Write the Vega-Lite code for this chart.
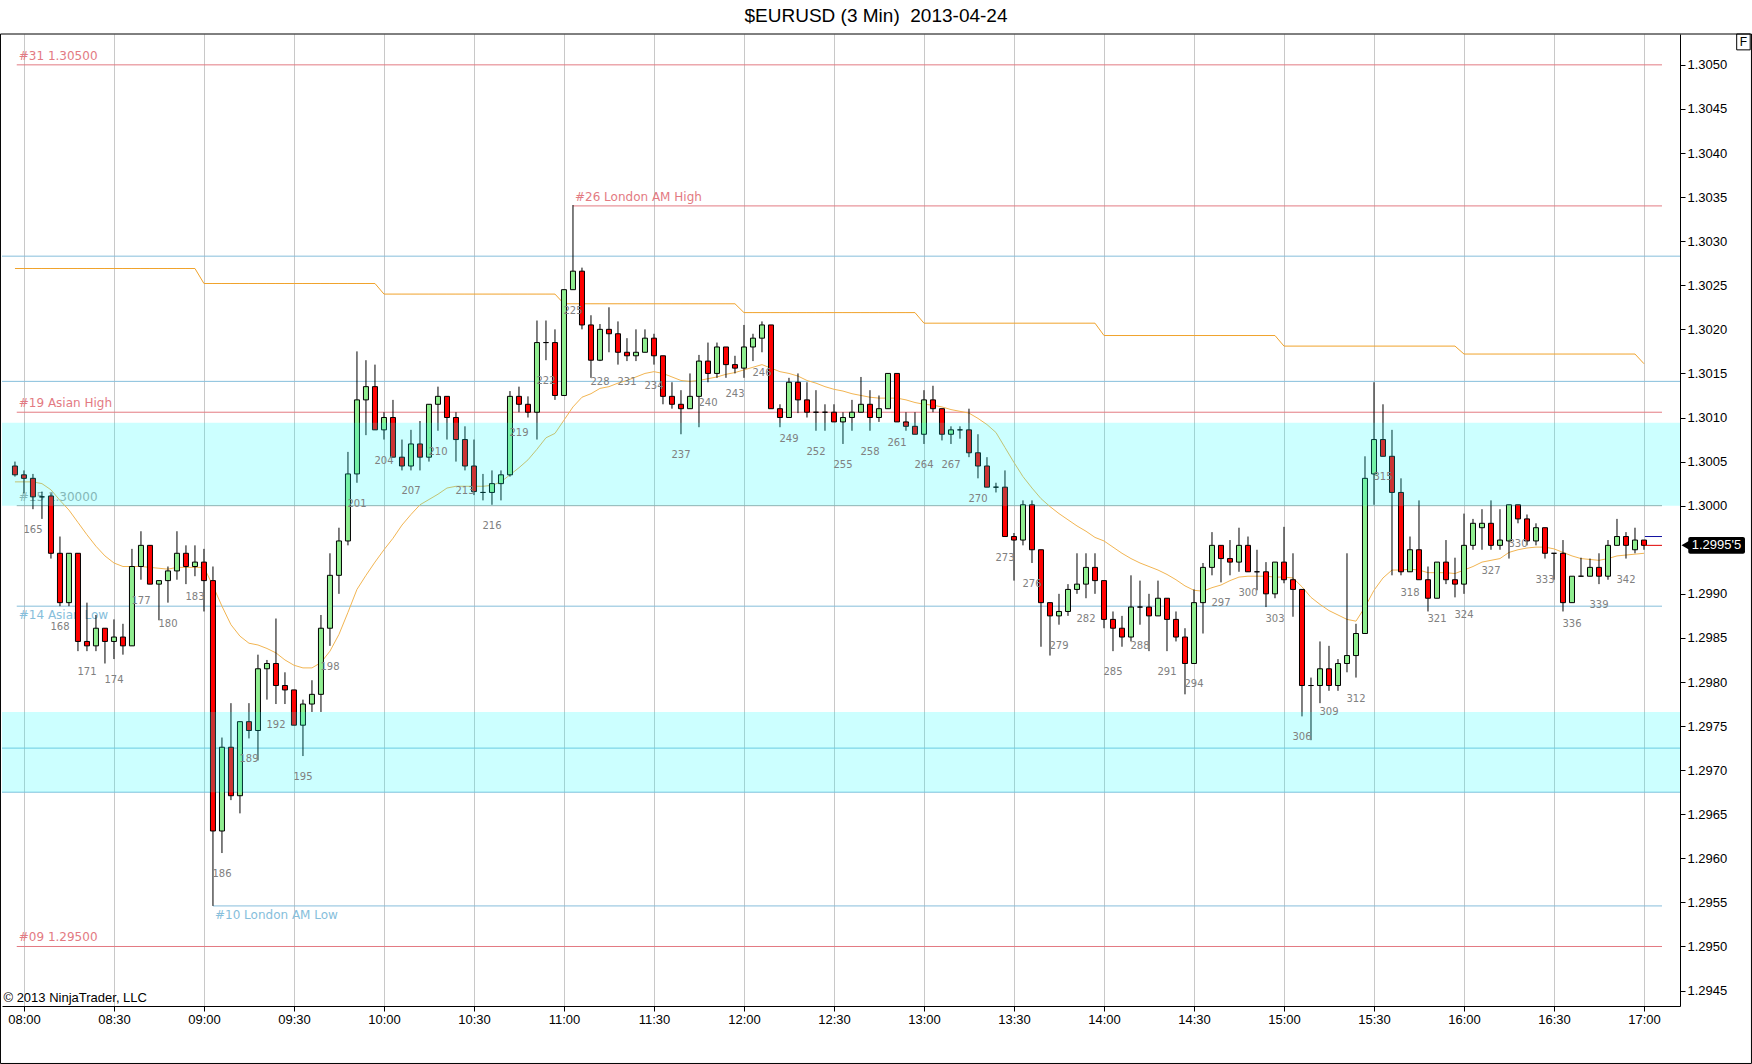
{
  "$schema": "https://vega.github.io/schema/vega-lite/v6.json",
  "width": 1678,
  "height": 972,
  "autosize": {"type": "none"},
  "padding": {"left": 2, "top": 34, "right": 72, "bottom": 58},
  "background": "white",
  "config": {
    "view": {"stroke": null},
    "axis": {
      "domainColor": "black",
      "tickColor": "black",
      "tickSize": 5,
      "labelFont": "Liberation Sans",
      "labelFontSize": 13,
      "labelColor": "black",
      "labelFlush": false,
      "labelOverlap": false
    }
  },
  "datasets": {
    "bars": [
      {"n":163,"o":1.30045,"h":1.3005,"l":1.30033,"c":1.30035,"ma":1.30027,"pv":1.30269},
      {"n":164,"o":1.30035,"h":1.3004,"l":1.30014,"c":1.30031,"ma":1.30027,"pv":1.30269},
      {"n":165,"o":1.30031,"h":1.30036,"l":1.29996,"c":1.3001,"ma":1.30027,"pv":1.30269},
      {"n":166,"o":1.3001,"h":1.30016,"l":1.29985,"c":1.3001,"ma":1.30025,"pv":1.30269},
      {"n":167,"o":1.30011,"h":1.30014,"l":1.2994,"c":1.29946,"ma":1.30018,"pv":1.30269},
      {"n":168,"o":1.29946,"h":1.29965,"l":1.29886,"c":1.2989,"ma":1.30006,"pv":1.30269},
      {"n":169,"o":1.2989,"h":1.29946,"l":1.29886,"c":1.29946,"ma":1.29995,"pv":1.30269},
      {"n":170,"o":1.29946,"h":1.29946,"l":1.29835,"c":1.29846,"ma":1.29981,"pv":1.30269},
      {"n":171,"o":1.29846,"h":1.2989,"l":1.29835,"c":1.29841,"ma":1.29967,"pv":1.30269},
      {"n":172,"o":1.29841,"h":1.29876,"l":1.29835,"c":1.29861,"ma":1.29954,"pv":1.30269},
      {"n":173,"o":1.29861,"h":1.29861,"l":1.29821,"c":1.29846,"ma":1.29943,"pv":1.30269},
      {"n":174,"o":1.29846,"h":1.29871,"l":1.29826,"c":1.29851,"ma":1.29935,"pv":1.30269},
      {"n":175,"o":1.29851,"h":1.29866,"l":1.29831,"c":1.29841,"ma":1.29931,"pv":1.30269},
      {"n":176,"o":1.29841,"h":1.29951,"l":1.29841,"c":1.29931,"ma":1.29931,"pv":1.30269},
      {"n":177,"o":1.29931,"h":1.29971,"l":1.29916,"c":1.29955,"ma":1.29931,"pv":1.30269},
      {"n":178,"o":1.29955,"h":1.29955,"l":1.29911,"c":1.29911,"ma":1.2993,"pv":1.30269},
      {"n":179,"o":1.29911,"h":1.29915,"l":1.2987,"c":1.29915,"ma":1.29929,"pv":1.30269},
      {"n":180,"o":1.29915,"h":1.29931,"l":1.2989,"c":1.29926,"ma":1.29928,"pv":1.30269},
      {"n":181,"o":1.29926,"h":1.29971,"l":1.29916,"c":1.29946,"ma":1.2993,"pv":1.30269},
      {"n":182,"o":1.29946,"h":1.29955,"l":1.29911,"c":1.29931,"ma":1.2993,"pv":1.30269},
      {"n":183,"o":1.29931,"h":1.29955,"l":1.2992,"c":1.29936,"ma":1.2993,"pv":1.30269},
      {"n":184,"o":1.29936,"h":1.29951,"l":1.2988,"c":1.29915,"ma":1.2993,"pv":1.30252},
      {"n":185,"o":1.29915,"h":1.29931,"l":1.29546,"c":1.29631,"ma":1.29909,"pv":1.30252},
      {"n":186,"o":1.29631,"h":1.29737,"l":1.29606,"c":1.29726,"ma":1.29886,"pv":1.30252},
      {"n":187,"o":1.29726,"h":1.29776,"l":1.29666,"c":1.29671,"ma":1.29865,"pv":1.30252},
      {"n":188,"o":1.29671,"h":1.29755,"l":1.29651,"c":1.29755,"ma":1.29852,"pv":1.30252},
      {"n":189,"o":1.29755,"h":1.29776,"l":1.29736,"c":1.29745,"ma":1.29844,"pv":1.30252},
      {"n":190,"o":1.29745,"h":1.29831,"l":1.29711,"c":1.29815,"ma":1.29842,"pv":1.30252},
      {"n":191,"o":1.29815,"h":1.29825,"l":1.2978,"c":1.29821,"ma":1.29838,"pv":1.30252},
      {"n":192,"o":1.29821,"h":1.29872,"l":1.29775,"c":1.29796,"ma":1.29833,"pv":1.30252},
      {"n":193,"o":1.29796,"h":1.29811,"l":1.29775,"c":1.29791,"ma":1.29825,"pv":1.30252},
      {"n":194,"o":1.29791,"h":1.29791,"l":1.29751,"c":1.29751,"ma":1.29819,"pv":1.30252},
      {"n":195,"o":1.29751,"h":1.2978,"l":1.29716,"c":1.29775,"ma":1.29816,"pv":1.30252},
      {"n":196,"o":1.29775,"h":1.29802,"l":1.29766,"c":1.29786,"ma":1.29816,"pv":1.30252},
      {"n":197,"o":1.29786,"h":1.29876,"l":1.29766,"c":1.29861,"ma":1.29822,"pv":1.30252},
      {"n":198,"o":1.29861,"h":1.29946,"l":1.29841,"c":1.29921,"ma":1.29835,"pv":1.30252},
      {"n":199,"o":1.29921,"h":1.29975,"l":1.299,"c":1.2996,"ma":1.29854,"pv":1.30252},
      {"n":200,"o":1.2996,"h":1.30061,"l":1.29955,"c":1.30036,"ma":1.29879,"pv":1.30252},
      {"n":201,"o":1.30036,"h":1.30175,"l":1.30026,"c":1.3012,"ma":1.29905,"pv":1.30252},
      {"n":202,"o":1.3012,"h":1.30165,"l":1.3008,"c":1.30135,"ma":1.29921,"pv":1.30252},
      {"n":203,"o":1.30135,"h":1.3016,"l":1.30086,"c":1.30086,"ma":1.29936,"pv":1.30252},
      {"n":204,"o":1.30086,"h":1.30106,"l":1.30075,"c":1.301,"ma":1.2995,"pv":1.3024},
      {"n":205,"o":1.301,"h":1.3012,"l":1.30055,"c":1.30055,"ma":1.29963,"pv":1.3024},
      {"n":206,"o":1.30055,"h":1.30075,"l":1.3004,"c":1.30045,"ma":1.29978,"pv":1.3024},
      {"n":207,"o":1.30045,"h":1.30086,"l":1.3004,"c":1.3007,"ma":1.2999,"pv":1.3024},
      {"n":208,"o":1.3007,"h":1.30096,"l":1.3004,"c":1.30055,"ma":1.30001,"pv":1.3024},
      {"n":209,"o":1.30055,"h":1.30115,"l":1.3005,"c":1.30115,"ma":1.30007,"pv":1.3024},
      {"n":210,"o":1.30115,"h":1.30135,"l":1.30085,"c":1.30124,"ma":1.30013,"pv":1.3024},
      {"n":211,"o":1.30124,"h":1.30124,"l":1.30075,"c":1.301,"ma":1.3002,"pv":1.3024},
      {"n":212,"o":1.301,"h":1.30106,"l":1.3005,"c":1.30075,"ma":1.30022,"pv":1.3024},
      {"n":213,"o":1.30075,"h":1.3009,"l":1.3004,"c":1.30045,"ma":1.30022,"pv":1.3024},
      {"n":214,"o":1.30045,"h":1.30075,"l":1.30012,"c":1.30016,"ma":1.30022,"pv":1.3024},
      {"n":215,"o":1.30015,"h":1.30036,"l":1.30006,"c":1.30015,"ma":1.30022,"pv":1.3024},
      {"n":216,"o":1.30015,"h":1.3004,"l":1.30001,"c":1.30025,"ma":1.30023,"pv":1.3024},
      {"n":217,"o":1.30025,"h":1.3004,"l":1.30006,"c":1.30035,"ma":1.30027,"pv":1.3024},
      {"n":218,"o":1.30035,"h":1.3013,"l":1.30033,"c":1.30124,"ma":1.30035,"pv":1.3024},
      {"n":219,"o":1.30124,"h":1.30135,"l":1.30106,"c":1.30115,"ma":1.30043,"pv":1.3024},
      {"n":220,"o":1.30115,"h":1.30124,"l":1.301,"c":1.30106,"ma":1.30052,"pv":1.3024},
      {"n":221,"o":1.30106,"h":1.3021,"l":1.30075,"c":1.30185,"ma":1.30064,"pv":1.3024},
      {"n":222,"o":1.30185,"h":1.3021,"l":1.30165,"c":1.30185,"ma":1.30077,"pv":1.3024},
      {"n":223,"o":1.30185,"h":1.302,"l":1.3012,"c":1.30125,"ma":1.30082,"pv":1.3024},
      {"n":224,"o":1.30125,"h":1.30245,"l":1.30125,"c":1.30245,"ma":1.30097,"pv":1.30229},
      {"n":225,"o":1.30245,"h":1.30341,"l":1.30245,"c":1.30266,"ma":1.30112,"pv":1.30229},
      {"n":226,"o":1.30266,"h":1.3027,"l":1.302,"c":1.30205,"ma":1.30123,"pv":1.30229},
      {"n":227,"o":1.30205,"h":1.30216,"l":1.30145,"c":1.30165,"ma":1.30127,"pv":1.30229},
      {"n":228,"o":1.30165,"h":1.30206,"l":1.30164,"c":1.302,"ma":1.30133,"pv":1.30229},
      {"n":229,"o":1.302,"h":1.30225,"l":1.30174,"c":1.30195,"ma":1.30135,"pv":1.30229},
      {"n":230,"o":1.30195,"h":1.30209,"l":1.3016,"c":1.30174,"ma":1.30139,"pv":1.30229},
      {"n":231,"o":1.30174,"h":1.3019,"l":1.30164,"c":1.3017,"ma":1.30142,"pv":1.30229},
      {"n":232,"o":1.3017,"h":1.302,"l":1.30164,"c":1.30174,"ma":1.30146,"pv":1.30229},
      {"n":233,"o":1.30174,"h":1.302,"l":1.30174,"c":1.3019,"ma":1.3015,"pv":1.30229},
      {"n":234,"o":1.3019,"h":1.30195,"l":1.3016,"c":1.3017,"ma":1.30152,"pv":1.30229},
      {"n":235,"o":1.3017,"h":1.3017,"l":1.30115,"c":1.30124,"ma":1.3015,"pv":1.30229},
      {"n":236,"o":1.30124,"h":1.3014,"l":1.3011,"c":1.30115,"ma":1.30146,"pv":1.30229},
      {"n":237,"o":1.30115,"h":1.30131,"l":1.30081,"c":1.3011,"ma":1.30142,"pv":1.30229},
      {"n":238,"o":1.3011,"h":1.3015,"l":1.3011,"c":1.30124,"ma":1.30141,"pv":1.30229},
      {"n":239,"o":1.30124,"h":1.30171,"l":1.30089,"c":1.30164,"ma":1.30142,"pv":1.30229},
      {"n":240,"o":1.30164,"h":1.30185,"l":1.3014,"c":1.3015,"ma":1.30144,"pv":1.30229},
      {"n":241,"o":1.3015,"h":1.30185,"l":1.30145,"c":1.3018,"ma":1.30146,"pv":1.30229},
      {"n":242,"o":1.3018,"h":1.3018,"l":1.30145,"c":1.3016,"ma":1.30149,"pv":1.30229},
      {"n":243,"o":1.3016,"h":1.3017,"l":1.3015,"c":1.30156,"ma":1.30151,"pv":1.30229},
      {"n":244,"o":1.30156,"h":1.30205,"l":1.30145,"c":1.3018,"ma":1.30154,"pv":1.30219},
      {"n":245,"o":1.3018,"h":1.30195,"l":1.30164,"c":1.3019,"ma":1.30157,"pv":1.30219},
      {"n":246,"o":1.3019,"h":1.30209,"l":1.30174,"c":1.30205,"ma":1.3016,"pv":1.30219},
      {"n":247,"o":1.30205,"h":1.30205,"l":1.3011,"c":1.3011,"ma":1.30156,"pv":1.30219},
      {"n":248,"o":1.3011,"h":1.30115,"l":1.30089,"c":1.301,"ma":1.30152,"pv":1.30219},
      {"n":249,"o":1.301,"h":1.30145,"l":1.301,"c":1.3014,"ma":1.3015,"pv":1.30219},
      {"n":250,"o":1.3014,"h":1.3015,"l":1.30105,"c":1.3012,"ma":1.30147,"pv":1.30219},
      {"n":251,"o":1.3012,"h":1.3014,"l":1.301,"c":1.30106,"ma":1.30142,"pv":1.30219},
      {"n":252,"o":1.30106,"h":1.30131,"l":1.30085,"c":1.30106,"ma":1.30139,"pv":1.30219},
      {"n":253,"o":1.30106,"h":1.30115,"l":1.30085,"c":1.30106,"ma":1.30135,"pv":1.30219},
      {"n":254,"o":1.30106,"h":1.30115,"l":1.30095,"c":1.30095,"ma":1.30132,"pv":1.30219},
      {"n":255,"o":1.30095,"h":1.30106,"l":1.3007,"c":1.301,"ma":1.3013,"pv":1.30219},
      {"n":256,"o":1.301,"h":1.3012,"l":1.30085,"c":1.30106,"ma":1.30127,"pv":1.30219},
      {"n":257,"o":1.30106,"h":1.30146,"l":1.30106,"c":1.30115,"ma":1.30125,"pv":1.30219},
      {"n":258,"o":1.30115,"h":1.30131,"l":1.30085,"c":1.301,"ma":1.30123,"pv":1.30219},
      {"n":259,"o":1.301,"h":1.30125,"l":1.30095,"c":1.3011,"ma":1.30122,"pv":1.30219},
      {"n":260,"o":1.3011,"h":1.3015,"l":1.3011,"c":1.3015,"ma":1.30122,"pv":1.30219},
      {"n":261,"o":1.3015,"h":1.3015,"l":1.30095,"c":1.30095,"ma":1.30122,"pv":1.30219},
      {"n":262,"o":1.30095,"h":1.30106,"l":1.30085,"c":1.3009,"ma":1.3012,"pv":1.30219},
      {"n":263,"o":1.3009,"h":1.30106,"l":1.30081,"c":1.30081,"ma":1.30117,"pv":1.30219},
      {"n":264,"o":1.30081,"h":1.30131,"l":1.3007,"c":1.3012,"ma":1.30115,"pv":1.30207},
      {"n":265,"o":1.3012,"h":1.30136,"l":1.30106,"c":1.3011,"ma":1.30114,"pv":1.30207},
      {"n":266,"o":1.3011,"h":1.3011,"l":1.30074,"c":1.30081,"ma":1.30112,"pv":1.30207},
      {"n":267,"o":1.30081,"h":1.3009,"l":1.3007,"c":1.30086,"ma":1.30109,"pv":1.30207},
      {"n":268,"o":1.30086,"h":1.3009,"l":1.30076,"c":1.30086,"ma":1.30107,"pv":1.30207},
      {"n":269,"o":1.30086,"h":1.3011,"l":1.30055,"c":1.3006,"ma":1.30105,"pv":1.30207},
      {"n":270,"o":1.3006,"h":1.30081,"l":1.30031,"c":1.30045,"ma":1.30099,"pv":1.30207},
      {"n":271,"o":1.30045,"h":1.30055,"l":1.30021,"c":1.30021,"ma":1.30092,"pv":1.30207},
      {"n":272,"o":1.30021,"h":1.30026,"l":1.30015,"c":1.30021,"ma":1.30083,"pv":1.30207},
      {"n":273,"o":1.30021,"h":1.3004,"l":1.29965,"c":1.29965,"ma":1.30066,"pv":1.30207},
      {"n":274,"o":1.29965,"h":1.29969,"l":1.29915,"c":1.29961,"ma":1.30049,"pv":1.30207},
      {"n":275,"o":1.29961,"h":1.30006,"l":1.29955,"c":1.30001,"ma":1.30033,"pv":1.30207},
      {"n":276,"o":1.30001,"h":1.30006,"l":1.29935,"c":1.2995,"ma":1.3002,"pv":1.30207},
      {"n":277,"o":1.2995,"h":1.2995,"l":1.2984,"c":1.2989,"ma":1.30008,"pv":1.30207},
      {"n":278,"o":1.2989,"h":1.2989,"l":1.2983,"c":1.29875,"ma":1.29999,"pv":1.30207},
      {"n":279,"o":1.29875,"h":1.299,"l":1.29865,"c":1.2988,"ma":1.29991,"pv":1.30207},
      {"n":280,"o":1.2988,"h":1.29911,"l":1.29875,"c":1.29905,"ma":1.29984,"pv":1.30207},
      {"n":281,"o":1.29905,"h":1.29946,"l":1.299,"c":1.29911,"ma":1.29977,"pv":1.30207},
      {"n":282,"o":1.29911,"h":1.29946,"l":1.29895,"c":1.2993,"ma":1.29971,"pv":1.30207},
      {"n":283,"o":1.2993,"h":1.29946,"l":1.299,"c":1.29915,"ma":1.29964,"pv":1.30207},
      {"n":284,"o":1.29915,"h":1.29915,"l":1.29861,"c":1.29871,"ma":1.2996,"pv":1.30193},
      {"n":285,"o":1.29871,"h":1.2988,"l":1.29835,"c":1.29861,"ma":1.29953,"pv":1.30193},
      {"n":286,"o":1.29861,"h":1.29875,"l":1.2984,"c":1.29851,"ma":1.29946,"pv":1.30193},
      {"n":287,"o":1.29851,"h":1.29921,"l":1.29846,"c":1.29885,"ma":1.2994,"pv":1.30193},
      {"n":288,"o":1.29885,"h":1.29915,"l":1.29865,"c":1.29885,"ma":1.29935,"pv":1.30193},
      {"n":289,"o":1.29885,"h":1.299,"l":1.29835,"c":1.29875,"ma":1.29931,"pv":1.30193},
      {"n":290,"o":1.29875,"h":1.29915,"l":1.29875,"c":1.29895,"ma":1.29927,"pv":1.30193},
      {"n":291,"o":1.29895,"h":1.29895,"l":1.29835,"c":1.29871,"ma":1.29922,"pv":1.30193},
      {"n":292,"o":1.29871,"h":1.2988,"l":1.29846,"c":1.29851,"ma":1.29916,"pv":1.30193},
      {"n":293,"o":1.29851,"h":1.29861,"l":1.29786,"c":1.29821,"ma":1.29909,"pv":1.30193},
      {"n":294,"o":1.29821,"h":1.29905,"l":1.29821,"c":1.2989,"ma":1.29904,"pv":1.30193},
      {"n":295,"o":1.2989,"h":1.29935,"l":1.29855,"c":1.2993,"ma":1.29903,"pv":1.30193},
      {"n":296,"o":1.2993,"h":1.2997,"l":1.29921,"c":1.29955,"ma":1.29907,"pv":1.30193},
      {"n":297,"o":1.29955,"h":1.29955,"l":1.29913,"c":1.2994,"ma":1.2991,"pv":1.30193},
      {"n":298,"o":1.2994,"h":1.29961,"l":1.29921,"c":1.29936,"ma":1.29915,"pv":1.30193},
      {"n":299,"o":1.29936,"h":1.29975,"l":1.29925,"c":1.29955,"ma":1.29919,"pv":1.30193},
      {"n":300,"o":1.29955,"h":1.29965,"l":1.29925,"c":1.29925,"ma":1.2992,"pv":1.30193},
      {"n":301,"o":1.29925,"h":1.2995,"l":1.29904,"c":1.29925,"ma":1.2992,"pv":1.30193},
      {"n":302,"o":1.29925,"h":1.29936,"l":1.29885,"c":1.299,"ma":1.2992,"pv":1.30193},
      {"n":303,"o":1.299,"h":1.29936,"l":1.29895,"c":1.29936,"ma":1.29919,"pv":1.30193},
      {"n":304,"o":1.29936,"h":1.29976,"l":1.29912,"c":1.29916,"ma":1.29919,"pv":1.30181},
      {"n":305,"o":1.29916,"h":1.29946,"l":1.29874,"c":1.29905,"ma":1.29918,"pv":1.30181},
      {"n":306,"o":1.29905,"h":1.29905,"l":1.29761,"c":1.29796,"ma":1.29908,"pv":1.30181},
      {"n":307,"o":1.29796,"h":1.29805,"l":1.29734,"c":1.29796,"ma":1.29896,"pv":1.30181},
      {"n":308,"o":1.29796,"h":1.29846,"l":1.29776,"c":1.29815,"ma":1.29888,"pv":1.30181},
      {"n":309,"o":1.29815,"h":1.29841,"l":1.2979,"c":1.29796,"ma":1.29881,"pv":1.30181},
      {"n":310,"o":1.29796,"h":1.29826,"l":1.2979,"c":1.29821,"ma":1.29876,"pv":1.30181},
      {"n":311,"o":1.29821,"h":1.29946,"l":1.29811,"c":1.2983,"ma":1.29871,"pv":1.30181},
      {"n":312,"o":1.2983,"h":1.29866,"l":1.29805,"c":1.29855,"ma":1.29869,"pv":1.30181},
      {"n":313,"o":1.29855,"h":1.30056,"l":1.29855,"c":1.30031,"ma":1.29885,"pv":1.30181},
      {"n":314,"o":1.30036,"h":1.3014,"l":1.30001,"c":1.30075,"ma":1.29904,"pv":1.30181},
      {"n":315,"o":1.30075,"h":1.30115,"l":1.30056,"c":1.30056,"ma":1.29918,"pv":1.30181},
      {"n":316,"o":1.30056,"h":1.30086,"l":1.29921,"c":1.30015,"ma":1.29927,"pv":1.30181},
      {"n":317,"o":1.30015,"h":1.30031,"l":1.29921,"c":1.29925,"ma":1.29927,"pv":1.30181},
      {"n":318,"o":1.29925,"h":1.29965,"l":1.29925,"c":1.2995,"ma":1.29928,"pv":1.30181},
      {"n":319,"o":1.2995,"h":1.30006,"l":1.29916,"c":1.29916,"ma":1.29927,"pv":1.30181},
      {"n":320,"o":1.29916,"h":1.29931,"l":1.2988,"c":1.29895,"ma":1.29924,"pv":1.30181},
      {"n":321,"o":1.29895,"h":1.29936,"l":1.29895,"c":1.29936,"ma":1.29924,"pv":1.30181},
      {"n":322,"o":1.29936,"h":1.29961,"l":1.29911,"c":1.29916,"ma":1.29924,"pv":1.30181},
      {"n":323,"o":1.29916,"h":1.29941,"l":1.29896,"c":1.29911,"ma":1.29923,"pv":1.30181},
      {"n":324,"o":1.29911,"h":1.29991,"l":1.299,"c":1.29955,"ma":1.29927,"pv":1.30172},
      {"n":325,"o":1.29955,"h":1.29985,"l":1.2995,"c":1.2998,"ma":1.29931,"pv":1.30172},
      {"n":326,"o":1.29975,"h":1.29996,"l":1.2995,"c":1.2998,"ma":1.29936,"pv":1.30172},
      {"n":327,"o":1.2998,"h":1.30006,"l":1.2995,"c":1.29955,"ma":1.29938,"pv":1.30172},
      {"n":328,"o":1.29955,"h":1.29996,"l":1.2995,"c":1.29961,"ma":1.2994,"pv":1.30172},
      {"n":329,"o":1.2996,"h":1.30001,"l":1.2994,"c":1.30001,"ma":1.29947,"pv":1.30172},
      {"n":330,"o":1.30001,"h":1.30001,"l":1.2998,"c":1.29985,"ma":1.2995,"pv":1.30172},
      {"n":331,"o":1.29985,"h":1.2999,"l":1.29955,"c":1.2996,"ma":1.29952,"pv":1.30172},
      {"n":332,"o":1.2996,"h":1.2998,"l":1.29955,"c":1.29975,"ma":1.29953,"pv":1.30172},
      {"n":333,"o":1.29975,"h":1.29975,"l":1.2994,"c":1.29946,"ma":1.29953,"pv":1.30172},
      {"n":334,"o":1.29946,"h":1.29946,"l":1.29916,"c":1.29946,"ma":1.29951,"pv":1.30172},
      {"n":335,"o":1.29946,"h":1.29961,"l":1.2988,"c":1.2989,"ma":1.29947,"pv":1.30172},
      {"n":336,"o":1.2989,"h":1.2992,"l":1.2989,"c":1.2992,"ma":1.29943,"pv":1.30172},
      {"n":337,"o":1.2992,"h":1.29941,"l":1.2992,"c":1.2992,"ma":1.2994,"pv":1.30172},
      {"n":338,"o":1.2992,"h":1.2994,"l":1.2992,"c":1.2993,"ma":1.29939,"pv":1.30172},
      {"n":339,"o":1.2993,"h":1.29946,"l":1.29911,"c":1.2992,"ma":1.29938,"pv":1.30172},
      {"n":340,"o":1.2992,"h":1.29961,"l":1.29916,"c":1.29955,"ma":1.2994,"pv":1.30172},
      {"n":341,"o":1.29955,"h":1.29985,"l":1.29955,"c":1.29965,"ma":1.29943,"pv":1.30172},
      {"n":342,"o":1.29965,"h":1.2997,"l":1.2994,"c":1.29955,"ma":1.29944,"pv":1.30172},
      {"n":343,"o":1.2995,"h":1.29975,"l":1.29946,"c":1.29961,"ma":1.29945,"pv":1.30172},
      {"n":344,"o":1.29961,"h":1.29961,"l":1.2995,"c":1.29955,"ma":1.29946,"pv":1.30161}
    ],
    "levels": [
      {"p":1.305,"x1":163.2,"x2":346,"kind":"R","label":"#31 1.30500"},
      {"p":1.3034,"x1":225,"x2":346,"kind":"R","label":"#26 London AM High"},
      {"p":1.30283,"x1":161.56,"x2":348,"kind":"S","label":""},
      {"p":1.30141,"x1":161.56,"x2":348,"kind":"S","label":""},
      {"p":1.30106,"x1":163.2,"x2":346,"kind":"R","label":"#19 Asian High"},
      {"p":1.3,"x1":163.2,"x2":346,"kind":"N","label":"#15 1.30000"},
      {"p":1.29886,"x1":163.2,"x2":346,"kind":"S","label":"#14 Asian Low"},
      {"p":1.29725,"x1":161.56,"x2":348,"kind":"S","label":""},
      {"p":1.29675,"x1":161.56,"x2":348,"kind":"S","label":""},
      {"p":1.29546,"x1":185,"x2":346,"kind":"S","label":"#10 London AM Low"},
      {"p":1.295,"x1":163.2,"x2":346,"kind":"R","label":"#09 1.29500"}
    ],
    "zones": [
      {"lo":1.3,"hi":1.30094},
      {"lo":1.29675,"hi":1.29766}
    ],
    "quotes": [
      {"side":"ask","p":1.29965,"tag":""},
      {"side":"last","p":1.29955,"tag":"1.2995'5"}
    ],
    "heading": [
      {"text":"$EURUSD (3 Min)\u00a0 2013-04-24"}
    ]
  },
  "layer": [
    {
      "data": {"name": "levels"},
      "mark": {"type": "rule", "strokeWidth": 1},
      "encoding": {
        "x": {
          "field": "x1", "type": "quantitative",
          "scale": {"domain": [161.56, 348], "nice": false, "zero": false, "padding": 0},
          "axis": {
            "title": null,
            "values": [164, 174, 184, 194, 204, 214, 224, 234, 244, 254, 264, 274, 284, 294, 304, 314, 324, 334, 344],
            "labelExpr": "timeFormat(datetime(2013, 3, 24, 8, (datum.value - 164) * 3), '%H:%M')",
            "grid": true,
            "gridColor": "#c8c8c8",
            "gridWidth": 1,
            "labelPadding": 2
          }
        },
        "x2": {"field": "x2"},
        "y": {
          "field": "p", "type": "quantitative",
          "scale": {"domain": [1.294325, 1.30535], "nice": false, "zero": false},
          "axis": {
            "title": null,
            "orient": "right",
            "values": [1.2945, 1.295, 1.2955, 1.296, 1.2965, 1.297, 1.2975, 1.298, 1.2985, 1.299, 1.3, 1.3005, 1.301, 1.3015, 1.302, 1.3025, 1.303, 1.3035, 1.304, 1.3045, 1.305],
            "format": ".4f",
            "grid": false,
            "labelPadding": 2
          }
        },
        "color": {"field": "kind", "type": "nominal", "scale": {"domain": ["R", "S", "N"], "range": ["#e37a82", "#86bedb", "#a6a6a6"]}, "legend": null}
      }
    },
    {
      "data": {"name": "levels"},
      "transform": [{"filter": "datum.label != '' && datum.kind != 'S'"}],
      "mark": {"type": "text", "align": "left", "baseline": "middle", "dx": 2, "dy": -9, "font": "DejaVu Sans", "fontSize": 12},
      "encoding": {
        "x": {"field": "x1", "type": "quantitative", "title": null},
        "y": {"field": "p", "type": "quantitative", "title": null},
        "text": {"field": "label"},
        "color": {"field": "kind", "type": "nominal", "legend": null}
      }
    },
    {
      "data": {"name": "levels"},
      "transform": [{"filter": "datum.label != '' && datum.kind == 'S'"}],
      "mark": {"type": "text", "align": "left", "baseline": "middle", "dx": 2, "dy": 9, "font": "DejaVu Sans", "fontSize": 12},
      "encoding": {
        "x": {"field": "x1", "type": "quantitative", "title": null},
        "y": {"field": "p", "type": "quantitative", "title": null},
        "text": {"field": "label"},
        "color": {"field": "kind", "type": "nominal", "legend": null}
      }
    },
    {
      "data": {"name": "bars"},
      "mark": {"type": "line", "color": "#f0a32c", "strokeWidth": 1},
      "encoding": {
        "x": {"field": "n", "type": "quantitative", "title": null},
        "y": {"field": "pv", "type": "quantitative", "title": null}
      }
    },
    {
      "data": {"name": "bars"},
      "mark": {"type": "line", "color": "#f2b552", "strokeWidth": 1},
      "encoding": {
        "x": {"field": "n", "type": "quantitative", "title": null},
        "y": {"field": "ma", "type": "quantitative", "title": null}
      }
    },
    {
      "data": {"name": "bars"},
      "mark": {"type": "rule", "color": "black", "strokeWidth": 1},
      "encoding": {
        "x": {"field": "n", "type": "quantitative", "title": null},
        "y": {"field": "l", "type": "quantitative", "title": null},
        "y2": {"field": "h"}
      }
    },
    {
      "data": {"name": "bars"},
      "mark": {"type": "bar", "orient": "vertical", "size": 5, "stroke": "black", "strokeWidth": 1},
      "encoding": {
        "x": {"field": "n", "type": "quantitative", "title": null, "scale": {"padding": 0}},
        "y": {"field": "o", "type": "quantitative", "title": null},
        "y2": {"field": "c"},
        "fill": {"condition": {"test": "datum.c >= datum.o", "value": "#90ee90"}, "value": "#ff0000"}
      }
    },
    {
      "data": {"name": "zones"},
      "mark": {"type": "rect", "color": "#00ffff", "opacity": 0.2},
      "encoding": {
        "x": {"datum": 161.56, "type": "quantitative"},
        "x2": {"datum": 348},
        "y": {"field": "lo", "type": "quantitative", "title": null},
        "y2": {"field": "hi"}
      }
    },
    {
      "data": {"name": "bars"},
      "transform": [{"filter": "datum.n % 3 == 0"}],
      "mark": {"type": "text", "align": "center", "baseline": "middle", "dy": 21, "font": "DejaVu Sans", "fontSize": 10, "color": "#808080"},
      "encoding": {
        "x": {"field": "n", "type": "quantitative", "title": null},
        "y": {"field": "l", "type": "quantitative", "title": null},
        "text": {"field": "n", "type": "quantitative"}
      }
    },
    {
      "data": {"name": "quotes"},
      "transform": [{"filter": "datum.side == 'ask'"}],
      "mark": {"type": "rule", "color": "#1010a0", "strokeWidth": 1},
      "encoding": {
        "x": {"datum": 344.1, "type": "quantitative"},
        "x2": {"datum": 346},
        "y": {"field": "p", "type": "quantitative", "title": null}
      }
    },
    {
      "data": {"name": "quotes"},
      "transform": [{"filter": "datum.side == 'last'"}],
      "mark": {"type": "rule", "color": "#e00000", "strokeWidth": 1},
      "encoding": {
        "x": {"datum": 344.1, "type": "quantitative"},
        "x2": {"datum": 346},
        "y": {"field": "p", "type": "quantitative", "title": null}
      }
    },
    {
      "data": {"name": "quotes"},
      "transform": [{"filter": "datum.side == 'last'"}],
      "mark": {"type": "rect", "color": "black", "cornerRadius": 2},
      "encoding": {
        "x": {"datum": 348.92, "type": "quantitative"},
        "x2": {"datum": 355.22},
        "y": {"datum": 1.299454, "type": "quantitative"},
        "y2": {"datum": 1.299646}
      }
    },
    {
      "data": {"name": "quotes"},
      "transform": [{"filter": "datum.side == 'last'"}],
      "mark": {"type": "point", "shape": "triangle-left", "filled": true, "color": "black", "size": 90, "opacity": 1},
      "encoding": {
        "x": {"datum": 348.62, "type": "quantitative"},
        "y": {"field": "p", "type": "quantitative", "title": null}
      }
    },
    {
      "data": {"name": "quotes"},
      "transform": [{"filter": "datum.side == 'last'"}],
      "mark": {"type": "text", "align": "left", "baseline": "middle", "font": "Liberation Sans", "fontSize": 13, "color": "white"},
      "encoding": {
        "x": {"datum": 349.3, "type": "quantitative"},
        "y": {"field": "p", "type": "quantitative", "title": null},
        "text": {"field": "tag"}
      }
    },
    {
      "data": {"name": "heading"},
      "mark": {"type": "text", "align": "center", "baseline": "middle", "font": "Liberation Sans", "fontSize": 19, "color": "black"},
      "encoding": {
        "x": {"datum": 258.67, "type": "quantitative"},
        "y": {"datum": 1.305555, "type": "quantitative"},
        "text": {"field": "text"}
      }
    },
    {
      "data": {"values": [{}]},
      "mark": {"type": "rect", "fill": "white", "stroke": "black", "strokeWidth": 1},
      "encoding": {
        "x": {"datum": 354.3, "type": "quantitative"},
        "x2": {"datum": 355.8},
        "y": {"datum": 1.30517, "type": "quantitative"},
        "y2": {"datum": 1.30535}
      }
    },
    {
      "data": {"values": [{}]},
      "mark": {"type": "text", "align": "center", "baseline": "middle", "font": "Liberation Sans", "fontSize": 12, "color": "black", "text": "F"},
      "encoding": {
        "x": {"datum": 355.05, "type": "quantitative"},
        "y": {"datum": 1.30526, "type": "quantitative"}
      }
    },
    {
      "data": {"values": [{}]},
      "mark": {"type": "rule", "color": "black", "strokeWidth": 1},
      "encoding": {
        "x": {"datum": 161.39, "type": "quantitative"},
        "x2": {"datum": 355.94},
        "y": {"datum": 1.30535, "type": "quantitative"}
      }
    },
    {
      "data": {"values": [{}]},
      "mark": {"type": "rule", "color": "black", "strokeWidth": 1},
      "encoding": {
        "x": {"datum": 161.39, "type": "quantitative"},
        "x2": {"datum": 355.94},
        "y": {"datum": 1.293673, "type": "quantitative"}
      }
    },
    {
      "data": {"values": [{}]},
      "mark": {"type": "rule", "color": "black", "strokeWidth": 1},
      "encoding": {
        "x": {"datum": 161.39, "type": "quantitative"},
        "y": {"datum": 1.30535, "type": "quantitative"},
        "y2": {"datum": 1.293673}
      }
    },
    {
      "data": {"values": [{}]},
      "mark": {"type": "rule", "color": "black", "strokeWidth": 1},
      "encoding": {
        "x": {"datum": 355.94, "type": "quantitative"},
        "y": {"datum": 1.30535, "type": "quantitative"},
        "y2": {"datum": 1.293673}
      }
    },
    {
      "data": {"values": [{}]},
      "mark": {"type": "text", "align": "left", "baseline": "bottom", "dy": -1, "font": "Liberation Sans", "fontSize": 13, "color": "black", "text": "© 2013 NinjaTrader, LLC"},
      "encoding": {
        "x": {"datum": 161.72, "type": "quantitative"},
        "y": {"datum": 1.294325, "type": "quantitative"}
      }
    }
  ]
}
